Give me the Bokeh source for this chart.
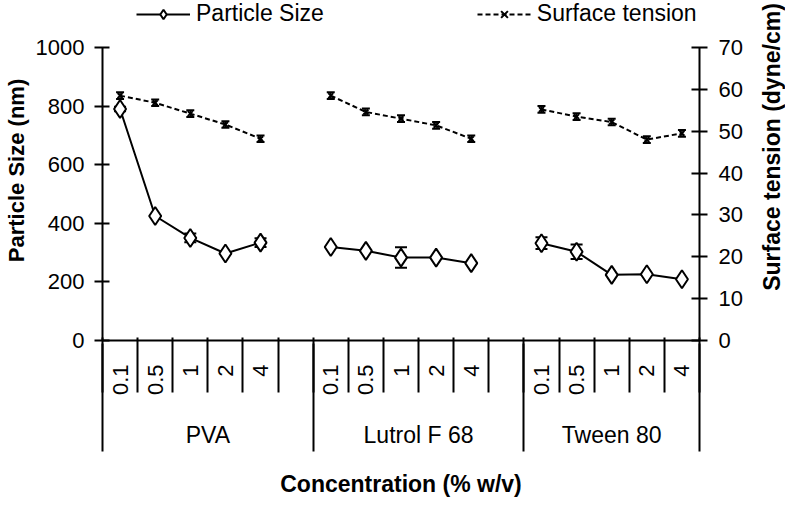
import math
from bokeh.plotting import figure
from bokeh.layouts import row
from bokeh.models import (Range1d, LinearAxis, FixedTicker, ColumnDataSource,
                          Whisker, TeeHead, Legend, LegendItem)
from bokeh.embed import file_html
from bokeh.resources import INLINE

# ---------------- data ----------------
groups = ["PVA", "Lutrol F 68", "Tween 80"]
concentrations = ["0.1", "0.5", "1", "2", "4"]

size_pva = [790, 425, 350, 297, 334]
size_lutrol = [319, 306, 283, 283, 264]
size_tween = [332, 303, 224, 226, 209]
size_err_pva = [8, 0, 15, 0, 15]
size_err_lutrol = [0, 0, 35, 0, 0]
size_err_tween = [20, 25, 0, 0, 0]

st_pva = [58.5, 56.8, 54.2, 51.6, 48.2]
st_lutrol = [58.5, 54.6, 53.0, 51.4, 48.2]
st_tween = [55.2, 53.5, 52.2, 48.0, 49.5]
st_err_pva = [0.8, 0.8, 0.8, 0.8, 0.8]
st_err_lutrol = [0.8, 0.8, 0.8, 0.8, 0.8]
st_err_tween = [0.8, 0.8, 0.8, 0.8, 0.8]

size_ticks = [0, 200, 400, 600, 800, 1000]
st_ticks = [0, 10, 20, 30, 40, 50, 60, 70]

sizes = [size_pva, size_lutrol, size_tween]
size_errs = [size_err_pva, size_err_lutrol, size_err_tween]
sts = [st_pva, st_lutrol, st_tween]
st_errs = [st_err_pva, st_err_lutrol, st_err_tween]

# category slots: each group gets its concentrations plus one blank slot
slots_per_group = len(concentrations) + 1
n_slots = slots_per_group * len(groups) - 1

FONT = "Liberation Sans"

# the frame reaches above the axes' top so the legend can sit there
size_max, st_max = 1000, 70
head = 340 / 293
p = figure(frame_width=597, frame_height=340,
           x_range=Range1d(0, n_slots), y_range=Range1d(0, size_max * head),
           x_axis_type=None, y_axis_type=None,
           output_backend="svg", toolbar_location=None,
           min_border_left=101, min_border_right=56,
           min_border_top=0, min_border_bottom=140)
p.outline_line_color = None
p.extra_y_ranges = {"st": Range1d(0, st_max * head)}

line_renderers = []
diamond_renderers = []
st_line_renderers = []
st_marker_renderers = []
for gi, g in enumerate(groups):
    xs = [gi * slots_per_group + ci + 0.5 for ci in range(len(concentrations))]
    s = sizes[gi]
    se = size_errs[gi]
    t = sts[gi]
    te = st_errs[gi]
    src = ColumnDataSource(dict(
        x=xs, size=s,
        size_lo=[a - b for a, b in zip(s, se)], size_hi=[a + b for a, b in zip(s, se)],
        st=t,
        st_lo=[a - b for a, b in zip(t, te)], st_hi=[a + b for a, b in zip(t, te)],
    ))
    # surface tension (right axis)
    sl = p.line("x", "st", source=src, y_range_name="st", line_color="black",
                line_width=2, line_dash="5 3")
    p.add_layout(Whisker(source=src, base="x", lower="st_lo", upper="st_hi",
                         y_range_name="st", line_color="black", line_width=1.5,
                         lower_head=TeeHead(size=8, line_color="black", line_width=2),
                         upper_head=TeeHead(size=8, line_color="black", line_width=2)))
    sm = p.scatter("x", "st", source=src, y_range_name="st", marker="x", size=7,
                   line_color="black", line_width=2)
    # particle size (left axis)
    pl = p.line("x", "size", source=src, line_color="black", line_width=2)
    p.add_layout(Whisker(source=src, base="x", lower="size_lo", upper="size_hi",
                         line_color="black", line_width=2,
                         lower_head=TeeHead(size=12, line_color="black", line_width=2),
                         upper_head=TeeHead(size=12, line_color="black", line_width=2)))
    pm = p.scatter("x", "size", source=src, marker="diamond", size=18,
                   fill_color="white", line_color="black", line_width=2)
    line_renderers.append(pl)
    diamond_renderers.append(pm)
    st_line_renderers.append(sl)
    st_marker_renderers.append(sm)

# ---------------- axes ----------------
def style_ticks(ax, size="22px"):
    ax.axis_line_color = "black"
    ax.axis_line_width = 2
    ax.major_tick_line_color = "black"
    ax.major_tick_line_width = 2
    ax.minor_tick_line_color = None
    ax.major_label_text_font = FONT
    ax.major_label_text_font_size = size
    ax.major_label_text_color = "black"
    ax.axis_label_text_font = FONT
    ax.axis_label_text_font_style = "bold"
    ax.axis_label_text_color = "black"

ya = LinearAxis(ticker=FixedTicker(ticks=size_ticks), axis_label="Particle Size (nm)",
                bounds=(0, size_max))
style_ticks(ya, "22px")
ya.major_tick_in = 7
ya.major_tick_out = 8
ya.major_label_standoff = 10
ya.axis_label_text_font_size = "22px"
ya.axis_label_standoff = 4
p.add_layout(ya, "left")

yr = LinearAxis(y_range_name="st", ticker=FixedTicker(ticks=st_ticks),
                bounds=(0, st_max))
style_ticks(yr, "22px")
yr.major_tick_in = 8
yr.major_tick_out = 8
yr.major_label_standoff = 11
p.add_layout(yr, "right")

# concentration level
center_ticks = []
overrides = {}
for gi in range(len(groups)):
    for ci, c in enumerate(concentrations):
        x = gi * slots_per_group + ci + 0.5
        center_ticks.append(x)
        overrides[x] = c
boundaries = list(range(0, n_slots + 1))
xa = LinearAxis(ticker=FixedTicker(ticks=center_ticks, minor_ticks=boundaries),
                major_label_overrides=overrides)
style_ticks(xa, "22px")
xa.major_tick_line_color = None
xa.major_tick_in = 0
xa.major_tick_out = 0
xa.minor_tick_line_color = "black"
xa.minor_tick_line_width = 2
xa.minor_tick_in = 3
xa.minor_tick_out = 52
xa.major_label_orientation = math.pi / 2
xa.major_label_standoff = -28
p.add_layout(xa, "below")

# group level
group_centers = []
group_overrides = {}
group_bounds = []
for gi, g in enumerate(groups):
    start = gi * slots_per_group
    end = min(start + slots_per_group, n_slots)
    c = (start + end) / 2
    group_centers.append(c)
    group_overrides[c] = g
    group_bounds.append(start)
group_bounds.append(n_slots)

xg = LinearAxis(ticker=FixedTicker(ticks=group_centers, minor_ticks=group_bounds),
                major_label_overrides=group_overrides,
                axis_label="Concentration (% w/v)")
style_ticks(xg, "23px")
xg.axis_line_color = None
xg.major_tick_line_color = None
xg.major_tick_in = 0
xg.major_tick_out = 0
xg.minor_tick_line_color = "black"
xg.minor_tick_line_width = 2
xg.minor_tick_in = 55
xg.minor_tick_out = 53
xg.major_label_standoff = -30
xg.axis_label_text_font_size = "23px"
xg.axis_label_standoff = 20
p.add_layout(xg, "below")

# ---------------- legend (top strip of the frame) ----------------
legend = Legend(items=[
    LegendItem(label="Particle Size", renderers=[line_renderers[0], diamond_renderers[0]]),
    LegendItem(label="Surface tension", renderers=[st_line_renderers[0], st_marker_renderers[0]]),
], orientation="horizontal", location=(34, 313))
legend.glyph_width = 54
legend.glyph_height = 24
legend.label_standoff = 6
legend.label_height = 24
legend.spacing = 153
legend.padding = 0
legend.margin = 0
legend.border_line_color = None
legend.background_fill_alpha = 0
legend.label_text_font = FONT
legend.label_text_font_size = "23px"
legend.label_text_color = "black"
p.add_layout(legend, "center")

# ---------------- right-hand title strip (reads bottom to top) ----------------
rf = figure(frame_width=1, frame_height=293, x_range=Range1d(0, 1), y_range=Range1d(0, 1),
            x_axis_type=None, y_axis_type=None, output_backend="svg",
            toolbar_location=None, min_border_left=0, min_border_right=0,
            min_border_top=0, min_border_bottom=150)
rf.outline_line_color = None
rax = LinearAxis(ticker=FixedTicker(ticks=[]), axis_label="Surface tension (dyne/cm)")
rax.axis_line_color = None
rax.major_tick_line_color = None
rax.minor_tick_line_color = None
rax.major_tick_in = 0
rax.major_tick_out = 0
rax.major_label_standoff = 0
rax.axis_label_standoff = 0
rax.axis_label_text_font = FONT
rax.axis_label_text_font_style = "bold"
rax.axis_label_text_font_size = "23px"
rax.axis_label_text_color = "black"
rf.add_layout(rax, "left")

layout = row(p, rf, spacing=0)
open("out.html", "w").write(file_html(layout, INLINE))
